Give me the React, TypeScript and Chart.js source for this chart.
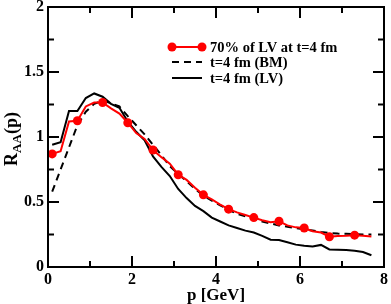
import React, { useEffect, useRef } from "react";
import { Chart, registerables } from "chart.js";

Chart.register(...registerables);

const pValues = [
  0.1, 0.3, 0.5, 0.7, 0.9, 1.1, 1.3, 1.5, 1.7, 1.9, 2.1, 2.3, 2.5, 2.7, 2.9, 3.1, 3.3, 3.5, 3.7, 3.9,
  4.1, 4.3, 4.5, 4.7, 4.9, 5.1, 5.3, 5.5, 5.7, 5.9, 6.1, 6.3, 6.5, 6.7, 6.9, 7.1, 7.3, 7.5, 7.7,
];

const raa70LV = [
  0.87, 0.89, 1.12, 1.125, 1.235, 1.265, 1.265, 1.22, 1.18, 1.11, 1.03, 0.985, 0.9, 0.845, 0.795, 0.71,
  0.67, 0.61, 0.555, 0.52, 0.48, 0.445, 0.42, 0.4, 0.38, 0.36, 0.345, 0.352, 0.32, 0.305, 0.3, 0.275,
  0.265, 0.233, 0.238, 0.24, 0.245, 0.24, 0.235,
];

const raaBM = [
  0.58, 0.75, 0.92, 1.09, 1.195, 1.255, 1.28, 1.26, 1.235, 1.16, 1.09, 1.02, 0.94, 0.86, 0.775, 0.715,
  0.66, 0.6, 0.55, 0.51, 0.475, 0.44, 0.41, 0.39, 0.37, 0.35, 0.335, 0.32, 0.31, 0.3, 0.29, 0.28, 0.27,
  0.262, 0.257, 0.255, 0.252, 0.25, 0.25,
];

const raaLV = [
  0.94, 0.96, 1.2, 1.2, 1.3, 1.335, 1.31, 1.255, 1.225, 1.12, 1.04, 0.975, 0.85, 0.77, 0.7, 0.6, 0.53,
  0.47, 0.43, 0.38, 0.35, 0.32, 0.3, 0.28, 0.265, 0.24, 0.21, 0.208, 0.19, 0.172, 0.163, 0.157, 0.17,
  0.135, 0.132, 0.13, 0.125, 0.115, 0.09,
];

const legendLabels = ["70% of LV at t=4 fm", "t=4 fm (BM)", "t=4 fm (LV)"];
const xMajorTicks = [0, 2, 4, 6, 8];
const xMinorTicks = [1, 3, 5, 7];
const yMajorTicks = [0, 0.5, 1, 1.5, 2];
const yMinorTicks = [0.25, 0.75, 1.25, 1.75];

const SERIF = '"Liberation Serif", "Times New Roman", serif';

const toXY = (ys: number[]) => ys.map((y, i) => ({ x: pValues[i], y }));

const decorPlugin = {
  id: "decor",
  afterDraw(chart: any) {
    const { ctx, chartArea, scales } = chart;
    const { left, right, top, bottom } = chartArea;
    const xs = scales.x;
    const ys = scales.y;
    ctx.save();
    ctx.strokeStyle = "#000";
    ctx.lineWidth = 2;
    ctx.beginPath();
    xMajorTicks.forEach((v) => {
      const px = xs.getPixelForValue(v);
      ctx.moveTo(px, bottom);
      ctx.lineTo(px, bottom - 11);
      ctx.moveTo(px, top);
      ctx.lineTo(px, top + 11);
    });
    xMinorTicks.forEach((v) => {
      const px = xs.getPixelForValue(v);
      ctx.moveTo(px, bottom);
      ctx.lineTo(px, bottom - 6);
      ctx.moveTo(px, top);
      ctx.lineTo(px, top + 6);
    });
    yMajorTicks.forEach((v) => {
      const py = ys.getPixelForValue(v);
      ctx.moveTo(left, py);
      ctx.lineTo(left + 11, py);
      ctx.moveTo(right, py);
      ctx.lineTo(right - 11, py);
    });
    yMinorTicks.forEach((v) => {
      const py = ys.getPixelForValue(v);
      ctx.moveTo(left, py);
      ctx.lineTo(left + 6, py);
      ctx.moveTo(right, py);
      ctx.lineTo(right - 6, py);
    });
    ctx.stroke();
    ctx.strokeRect(left, top, right - left, bottom - top);

    // x title
    ctx.fillStyle = "#000";
    ctx.font = `bold 17px ${SERIF}`;
    ctx.textAlign = "center";
    ctx.textBaseline = "middle";
    ctx.fillText("p [GeV]", (left + right) / 2, 296);

    // y title with subscript
    ctx.save();
    ctx.translate(17, 139);
    ctx.rotate(-Math.PI / 2);
    ctx.textAlign = "left";
    ctx.textBaseline = "alphabetic";
    const big = `bold 18px ${SERIF}`;
    const small = `bold 13px ${SERIF}`;
    ctx.font = big;
    const wR = ctx.measureText("R").width;
    const wP = ctx.measureText("(p)").width;
    ctx.font = small;
    const wA = ctx.measureText("AA").width;
    let x0 = -(wR + wA + wP) / 2;
    ctx.font = big;
    ctx.fillText("R", x0, 0);
    x0 += wR;
    ctx.font = small;
    ctx.fillText("AA", x0, 4);
    x0 += wA;
    ctx.font = big;
    ctx.fillText("(p)", x0, 0);
    ctx.restore();

    // legend
    const rows = [47, 62, 78];
    const lx0 = 172;
    const lx1 = 202;
    ctx.lineWidth = 2;
    ctx.strokeStyle = "#ff0000";
    ctx.fillStyle = "#ff0000";
    ctx.beginPath();
    ctx.moveTo(lx0, rows[0]);
    ctx.lineTo(lx1, rows[0]);
    ctx.stroke();
    [lx0, lx1].forEach((px) => {
      ctx.beginPath();
      ctx.arc(px, rows[0], 4.5, 0, Math.PI * 2);
      ctx.fill();
    });
    ctx.strokeStyle = "#000";
    ctx.setLineDash([7, 5]);
    ctx.beginPath();
    ctx.moveTo(lx0, rows[1]);
    ctx.lineTo(lx1, rows[1]);
    ctx.stroke();
    ctx.setLineDash([]);
    ctx.beginPath();
    ctx.moveTo(lx0, rows[2]);
    ctx.lineTo(lx1, rows[2]);
    ctx.stroke();
    ctx.fillStyle = "#000";
    ctx.font = `bold 14.5px ${SERIF}`;
    ctx.textAlign = "left";
    ctx.textBaseline = "middle";
    legendLabels.forEach((t, i) => ctx.fillText(t, 210, rows[i] + 1));
    ctx.restore();
  },
};

export default function App() {
  const canvasRef = useRef<HTMLCanvasElement | null>(null);

  useEffect(() => {
    document.body.style.margin = "0";
    const canvas = canvasRef.current;
    if (!canvas) return;
    const chart = new Chart(canvas, {
      type: "line",
      data: {
        datasets: [
          {
            label: legendLabels[0],
            data: toXY(raa70LV),
            borderColor: "#ff0000",
            backgroundColor: "#ff0000",
            borderWidth: 2,
            pointRadius: (c: any) => (c.dataIndex % 3 === 0 ? 4.5 : 0),
            pointBackgroundColor: "#ff0000",
            pointBorderWidth: 0,
            tension: 0,
          },
          {
            label: legendLabels[1],
            data: toXY(raaBM),
            borderColor: "#000",
            borderWidth: 2,
            borderDash: [7, 5],
            pointRadius: 0,
            tension: 0,
          },
          {
            label: legendLabels[2],
            data: toXY(raaLV),
            borderColor: "#000",
            borderWidth: 2,
            pointRadius: 0,
            tension: 0,
          },
        ],
      },
      options: {
        responsive: false,
        animation: false,
        events: [],
        layout: { padding: { top: 7, right: 7, left: 0, bottom: 0 } },
        plugins: { legend: { display: false }, tooltip: { enabled: false } },
        scales: {
          x: {
            type: "linear",
            min: 0,
            max: 8,
            grid: { display: false, drawTicks: false },
            border: { display: false },
            ticks: {
              stepSize: 2,
              color: "#000",
              padding: 3,
              maxRotation: 0,
              callback: (v: any) => `${+v}`,
              font: { family: SERIF, size: 16, weight: "bold" },
            },
            afterFit: (s: any) => {
              s.height = 37;
              s.paddingLeft = 0;
              s.paddingRight = 0;
            },
          },
          y: {
            type: "linear",
            min: 0,
            max: 2,
            grid: { display: false, drawTicks: false },
            border: { display: false },
            ticks: {
              stepSize: 0.5,
              color: "#000",
              padding: 4,
              callback: (v: any) => `${+v}`,
              font: { family: SERIF, size: 16, weight: "bold" },
            },
            afterFit: (s: any) => {
              s.width = 48;
              s.paddingTop = 0;
              s.paddingBottom = 0;
            },
          },
        },
      },
      plugins: [decorPlugin],
    } as any);
    return () => chart.destroy();
  }, []);

  return (
    <div style={{ width: 391, height: 304 }}>
      <canvas ref={canvasRef} width={391} height={304} style={{ display: "block" }} />
    </div>
  );
}
